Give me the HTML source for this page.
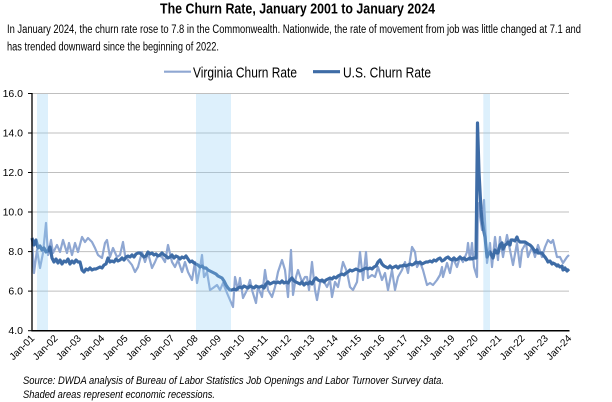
<!DOCTYPE html>
<html>
<head>
<meta charset="utf-8">
<style>
  html,body{margin:0;padding:0;background:#fff;}
  body{width:612px;height:402px;overflow:hidden;}
  svg{display:block;}
  .nar{font-family:"Liberation Sans Narrow","Liberation Sans",Arial,sans-serif;}
</style>
</head>
<body>
<svg width="612" height="402" viewBox="0 0 612 402" xmlns="http://www.w3.org/2000/svg">
  <rect x="0" y="0" width="612" height="402" fill="#ffffff"/>

  <!-- Title & subtitle -->
  <text class="nar" x="160" y="13.5" font-size="14.5" font-weight="bold" fill="#000" textLength="275" lengthAdjust="spacingAndGlyphs">The Churn Rate, January 2001 to January 2024</text>
  <text class="nar" x="7" y="33" font-size="11.5" fill="#000" textLength="574" lengthAdjust="spacingAndGlyphs">In January 2024, the churn rate rose to 7.8 in the Commonwealth. Nationwide, the rate of movement from job was little changed at 7.1 and</text>
  <text class="nar" x="7" y="50.5" font-size="11.5" fill="#000" textLength="212" lengthAdjust="spacingAndGlyphs">has trended downward since the beginning of 2022.</text>

  <!-- Legend -->
  <line x1="164" y1="71.7" x2="191" y2="71.7" stroke="#8FA7D2" stroke-width="2.2"/>
  <text class="nar" x="193" y="77.3" font-size="14.5" fill="#000" textLength="104" lengthAdjust="spacingAndGlyphs">Virginia Churn Rate</text>
  <line x1="313" y1="71.7" x2="340" y2="71.7" stroke="#3E6CA6" stroke-width="3.2"/>
  <text class="nar" x="343" y="77.3" font-size="14.5" fill="#000" textLength="88" lengthAdjust="spacingAndGlyphs">U.S. Churn Rate</text>

  <!-- Gridlines -->
  <g stroke="#BFBFBF" stroke-width="1">
    <line x1="32" y1="93.5" x2="569" y2="93.5"/>
    <line x1="32" y1="133" x2="569" y2="133"/>
    <line x1="32" y1="172.5" x2="569" y2="172.5"/>
    <line x1="32" y1="212" x2="569" y2="212"/>
    <line x1="32" y1="251.6" x2="569" y2="251.6"/>
    <line x1="32" y1="291.1" x2="569" y2="291.1"/>
  </g>

  <!-- Y labels -->
  <g class="nar" font-size="10.5" fill="#000" text-anchor="end">
    <text x="23" y="97">16.0</text>
    <text x="23" y="136.5">14.0</text>
    <text x="23" y="176">12.0</text>
    <text x="23" y="215.5">10.0</text>
    <text x="23" y="255">8.0</text>
    <text x="23" y="294.6">6.0</text>
    <text x="23" y="334.2">4.0</text>
  </g>

  <!-- Virginia series -->
  <polyline fill="none" stroke="#8FA7D2" stroke-width="2.2" stroke-linejoin="round" points="32,240 34,273 37,250 40,268 43,253 46,223 48,255 51,240 53,253 57,245 60,252 63,240 67,253 69,243 72,255 75,243 78,252 82,237 85,242 88,238 92,242 95,248 98,255 102,258 105,243 107,240 110,257 113,248 117,257 120,255 123,242 125,255 128,260 132,265 135,272 138,267 142,252 145,262 148,253 152,268 155,262 158,255 162,257 165,262 168,245 172,262 175,267 178,260 182,272 185,262 188,272 192,280 195,262 197,283 200,268 202,255 204,277 207,272 210,290 213,288 217,285 220,290 223,283 227,293 230,300 233,307 235,277 238,290 240,278 243,298 247,290 250,280 252,290 256,303 258,287 262,297 265,270 268,290 272,297 275,287 278,272 282,260 285,270 288,297 291,250 293,295 296,277 298,270 302,282 305,277 307,277 309,290 312,262 315,290 317,300 320,283 323,280 327,287 330,280 332,297 335,282 338,287 343,262 347,272 350,287 353,290 357,282 360,252 363,280 366,252 368,278 372,275 375,277 378,267 382,280 385,273 388,290 392,270 395,290 398,277 402,270 405,262 408,273 412,247 415,252 417,267 420,262 423,270 427,285 430,283 433,285 437,280 440,275 442,267 443,277 447,263 450,273 453,258 457,267 460,257 463,262 467,252 468,243 470,260 472,243 474,267 477,277 478,203 482,230 484,200 487,263 490,243 492,267 495,237 498,260 500,237 503,257 507,235 510,250 513,265 517,243 520,267 522,250 526,243 528,257 532,247 535,257 538,245 542,257 545,247 548,240 551,243 553,240 557,257 560,257 563,263 567,257 569,255"/>

  <!-- US series -->
  <polyline fill="none" stroke="#3E6CA6" stroke-width="3.2" stroke-linejoin="round" points="32,238 34,245 36,240 38,248 40,246 42,250 44,248 46,252 48,251 50,247 52,258 54,262 56,259 58,263 60,260 62,264 64,261 66,262 68,259 70,264 72,261 74,263 76,260 78,262 80,262 82,270 84,272 86,269 88,270 90,268 92,270 94,269 96,269 98,268 100,267 102,268 104,265 106,264 108,258 110,262 112,261 114,262 116,259 118,261 120,260 122,258 124,260 126,257 128,256 130,257 132,255 134,257 136,254 138,253 140,253 142,255 144,257 146,256 148,252 150,254 152,253 154,255 156,254 158,256 160,255 162,253 164,255 166,256 168,258 170,257 172,255 174,258 176,256 178,257 180,259 182,257 184,258 186,256 188,259 190,262 192,261 194,263 196,264 198,265 200,267 202,266 204,268 206,268 208,270 210,271 212,272 214,273 216,274 218,276 220,277 222,278 224,281 226,285 228,288 230,290 232,290 234,289 236,290 238,288 240,287 242,288 244,286 246,287 248,288 250,286 252,287 254,288 256,286 258,287 260,287 262,286 264,288 266,284 268,282 270,284 272,283 274,282 276,283 278,282 280,283 282,281 284,283 286,282 288,283 290,280 292,278 294,281 296,282 298,283 300,284 302,282 304,285 306,283 308,284 310,282 312,284 314,280 316,278 318,280 320,281 322,280 324,282 326,280 328,279 330,278 332,279 334,277 336,278 338,276 340,275 342,274 344,275 346,273 348,272 350,270 352,271 354,270 356,269 358,270 360,271 362,270 364,269 366,268 368,269 370,268 372,269 374,267 376,266 378,262 380,260 382,264 384,266 386,267 388,268 390,266 392,268 394,267 396,266 398,268 400,266 402,266 404,265 406,266 408,265 410,264 412,265 414,264 416,262 418,263 420,262 422,264 424,263 426,262 428,262 430,261 432,262 434,260 436,261 438,259 440,258 442,261 444,260 446,258 448,257 450,259 452,260 454,258 456,260 458,259 460,257 462,259 464,258 466,260 468,259 470,258 472,259 474,258 476,258 477.5,123 479,172 481,210 482,220 484,232 485,237 487,257 489,253 490,252 492,256 493,258 495,250 497,253 498,253 500,245 502,243 503,249 505,245 507,244 508,242 510,245 511,240 513,240 515,241 517,237 518,240 520,242 523,242 525,242 528,244 530,245 532,247 534,250 535,252 537,250 538,253 540,253 542,253 544,256 545,257 547,260 548,262 550,261 552,264 553,263 555,264 557,266 558,265 560,267 562,266 563,270 565,268 567,271 569,269"/>

  <!-- Recession shading (drawn over lines, translucent) -->
  <g fill="rgb(142,205,246)" fill-opacity="0.3">
    <rect x="37" y="94" width="11" height="236.5"/>
    <rect x="196" y="94" width="35" height="236.5"/>
    <rect x="483.3" y="94" width="6.7" height="236.5"/>
  </g>

  <!-- Axes -->
  <line x1="32" y1="93" x2="32" y2="331.5" stroke="#000" stroke-width="1.3"/>
  <line x1="31.5" y1="330.8" x2="569.5" y2="330.8" stroke="#000" stroke-width="1.5"/>
  <g stroke="#000" stroke-width="1">
    <line x1="28" y1="93.5" x2="32" y2="93.5"/>
    <line x1="28" y1="133" x2="32" y2="133"/>
    <line x1="28" y1="172.5" x2="32" y2="172.5"/>
    <line x1="28" y1="212" x2="32" y2="212"/>
    <line x1="28" y1="251.6" x2="32" y2="251.6"/>
    <line x1="28" y1="291.1" x2="32" y2="291.1"/>
    <line x1="28" y1="330.7" x2="32" y2="330.7"/>
  </g>

  <!-- X labels -->
  <g class="nar" font-size="10" fill="#000" text-anchor="end">
    <text transform="translate(35,339) rotate(-45)">Jan-01</text>
    <text transform="translate(58.35,339) rotate(-45)">Jan-02</text>
    <text transform="translate(81.7,339) rotate(-45)">Jan-03</text>
    <text transform="translate(105.05,339) rotate(-45)">Jan-04</text>
    <text transform="translate(128.4,339) rotate(-45)">Jan-05</text>
    <text transform="translate(151.75,339) rotate(-45)">Jan-06</text>
    <text transform="translate(175.1,339) rotate(-45)">Jan-07</text>
    <text transform="translate(198.45,339) rotate(-45)">Jan-08</text>
    <text transform="translate(221.8,339) rotate(-45)">Jan-09</text>
    <text transform="translate(245.15,339) rotate(-45)">Jan-10</text>
    <text transform="translate(268.5,339) rotate(-45)">Jan-11</text>
    <text transform="translate(291.85,339) rotate(-45)">Jan-12</text>
    <text transform="translate(315.2,339) rotate(-45)">Jan-13</text>
    <text transform="translate(338.55,339) rotate(-45)">Jan-14</text>
    <text transform="translate(361.9,339) rotate(-45)">Jan-15</text>
    <text transform="translate(385.25,339) rotate(-45)">Jan-16</text>
    <text transform="translate(408.6,339) rotate(-45)">Jan-17</text>
    <text transform="translate(431.95,339) rotate(-45)">Jan-18</text>
    <text transform="translate(455.3,339) rotate(-45)">Jan-19</text>
    <text transform="translate(478.65,339) rotate(-45)">Jan-20</text>
    <text transform="translate(502,339) rotate(-45)">Jan-21</text>
    <text transform="translate(525.35,339) rotate(-45)">Jan-22</text>
    <text transform="translate(548.7,339) rotate(-45)">Jan-23</text>
    <text transform="translate(572.05,339) rotate(-45)">Jan-24</text>
  </g>

  <!-- Footer -->
  <text class="nar" x="23" y="384" font-size="11" font-style="italic" fill="#000" textLength="421" lengthAdjust="spacingAndGlyphs">Source: DWDA analysis of Bureau of Labor Statistics Job Openings and Labor Turnover Survey data.</text>
  <text class="nar" x="23" y="398" font-size="11" font-style="italic" fill="#000" textLength="192" lengthAdjust="spacingAndGlyphs">Shaded areas represent economic recessions.</text>
</svg>
</body>
</html>
